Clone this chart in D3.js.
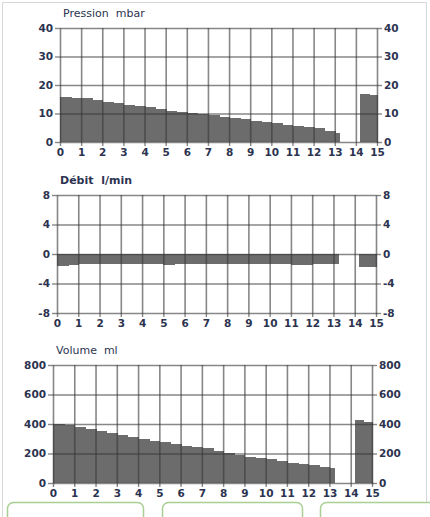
<!DOCTYPE html>
<html>
<head>
<meta charset="utf-8">
<script src="https://cdn.jsdelivr.net/npm/d3@7"></script>
<style>
  body { margin: 0; background: #fff; }
  text { font-family: "DejaVu Sans", sans-serif; }
</style>
</head>
<body>
<div id="canvas"></div>
<script>
// bins (seconds)
const tStart = [0, 0.5, 1, 1.5, 2, 2.5, 3, 3.5, 4, 4.5, 5, 5.5, 6, 6.5, 7, 7.5, 8, 8.5, 9, 9.5, 10, 10.5, 11, 11.5, 12, 12.5, 13, 14.2, 14.6];
const tEnd = [0.5, 1, 1.5, 2, 2.5, 3, 3.5, 4, 4.5, 5, 5.5, 6, 6.5, 7, 7.5, 8, 8.5, 9, 9.5, 10, 10.5, 11, 11.5, 12, 12.5, 13, 13.2, 14.6, 15];

const pression = [15.9, 15.6, 15.3, 14.7, 14.1, 13.6, 13.0, 12.6, 12.2, 11.6, 11.0, 10.6, 10.3, 9.9, 9.5, 8.9, 8.3, 7.9, 7.5, 7.0, 6.6, 6.1, 5.7, 5.2, 4.8, 4.0, 3.3, 16.9, 16.4];
const debit = [-1.6, -1.5, -1.4, -1.4, -1.4, -1.4, -1.4, -1.4, -1.4, -1.4, -1.5, -1.4, -1.4, -1.4, -1.4, -1.4, -1.4, -1.4, -1.4, -1.4, -1.4, -1.4, -1.5, -1.5, -1.4, -1.4, -1.4, -1.7, -1.7];
const volume = [400, 390, 378, 365, 352, 338, 325, 311, 298, 288, 279, 265, 252, 243, 234, 220, 205, 191, 178, 170, 161, 149, 137, 129, 120, 111, 102, 430, 412];

const xTicks = d3.range(0, 16);
const pressionTicks = [0, 10, 20, 30, 40];
const debitTicks = [-8, -4, 0, 4, 8];
const volumeTicks = [0, 200, 400, 600, 800];

const width = 430;
const height = 517;

const svg = d3.select("#canvas").append("svg")
  .attr("width", width)
  .attr("height", height);

// frame
svg.append("rect")
  .attr("x", 2.5).attr("y", 2.5)
  .attr("width", 424).attr("height", 530)
  .attr("fill", "none")
  .attr("stroke", "#d8d8d8");

const panels = [
  { title: "Pression  mbar", values: pression, ticks: pressionTicks, left: 60, right: 377, top: 28, bottom: 142, bold: false },
  { title: "Débit  l/min", values: debit, ticks: debitTicks, left: 57, right: 376, top: 195, bottom: 313, bold: true },
  { title: "Volume  ml", values: volume, ticks: volumeTicks, left: 53, right: 372, top: 365, bottom: 483, bold: false }
];

const textColor = "#2c3350";
const gridColor = "rgba(55,55,55,0.6)";
const barColor = "#6c6c6c";
const plainFormat = (d) => String(d);

const drawPanel = (p) => {
  const x = d3.scaleLinear().domain([0, 15]).range([p.left, p.right]);
  const y = d3.scaleLinear().domain(d3.extent(p.ticks)).range([p.bottom, p.top]);
  const ih = p.bottom - p.top;
  const iw = p.right - p.left;

  const g = svg.append("g");

  // bars
  g.selectAll("rect.bar")
    .data(p.values)
    .enter()
    .append("rect")
    .attr("class", "bar")
    .attr("x", (d, i) => x(tStart[i]))
    .attr("width", (d, i) => x(tEnd[i]) - x(tStart[i]) + 1)
    .attr("y", (d) => Math.min(y(0), y(d)))
    .attr("height", (d) => Math.abs(y(d) - y(0)))
    .attr("fill", barColor)
    .attr("shape-rendering", "crispEdges");

  // grid, drawn over the bars
  g.append("g")
    .attr("transform", `translate(0,${p.bottom})`)
    .call(d3.axisBottom(x).tickValues(xTicks.slice(1, -1)).tickSize(-ih).tickFormat(""))
    .call((s) => s.select(".domain").remove())
    .selectAll("line").attr("stroke", gridColor).attr("stroke-width", 1.6);

  g.append("g")
    .attr("transform", `translate(${p.left},0)`)
    .call(d3.axisLeft(y).tickValues(p.ticks.slice(1)).tickSize(-iw).tickFormat(""))
    .call((s) => s.select(".domain").remove())
    .selectAll("line").attr("stroke", gridColor).attr("stroke-width", 1.6);

  // axes with labels
  const styleAxis = (s) => {
    s.select(".domain").attr("stroke", gridColor).attr("stroke-width", 1.6);
    s.selectAll(".tick line").attr("stroke", gridColor).attr("stroke-width", 1.4);
    s.selectAll("text")
      .attr("fill", textColor)
      .style("font-size", "10.5px")
      .style("font-weight", "bold");
  };

  g.append("g")
    .attr("transform", `translate(0,${p.bottom})`)
    .call(d3.axisBottom(x).tickValues(xTicks).tickSize(4).tickSizeOuter(0).tickPadding(3).tickFormat(plainFormat))
    .call(styleAxis);

  g.append("g")
    .attr("transform", `translate(${p.left},0)`)
    .call(d3.axisLeft(y).tickValues(p.ticks).tickSize(5).tickSizeOuter(0).tickPadding(2).tickFormat(plainFormat))
    .call(styleAxis);

  g.append("g")
    .attr("transform", `translate(${p.right},0)`)
    .call(d3.axisRight(y).tickValues(p.ticks).tickSize(5).tickSizeOuter(0).tickPadding(2).tickFormat(plainFormat))
    .call(styleAxis);

  g.append("text")
    .attr("x", p.left + 3)
    .attr("y", p.top - 11)
    .attr("fill", textColor)
    .style("font-size", "11px")
    .style("font-weight", p.bold ? "bold" : "normal")
    .style("white-space", "pre")
    .text(p.title);
};

panels.forEach(drawPanel);

// buttons cut off at the bottom
const buttons = [
  { x: 7, w: 136 },
  { x: 162, w: 140 },
  { x: 320, w: 140 }
];
svg.selectAll("rect.btn")
  .data(buttons)
  .enter()
  .append("rect")
  .attr("class", "btn")
  .attr("x", (d) => d.x + 0.5)
  .attr("y", 502.5)
  .attr("width", (d) => d.w)
  .attr("height", 30)
  .attr("rx", 6)
  .attr("fill", "#fff")
  .attr("stroke", "#a9cf94")
  .attr("stroke-width", 1.5);
</script>
</body>
</html>
